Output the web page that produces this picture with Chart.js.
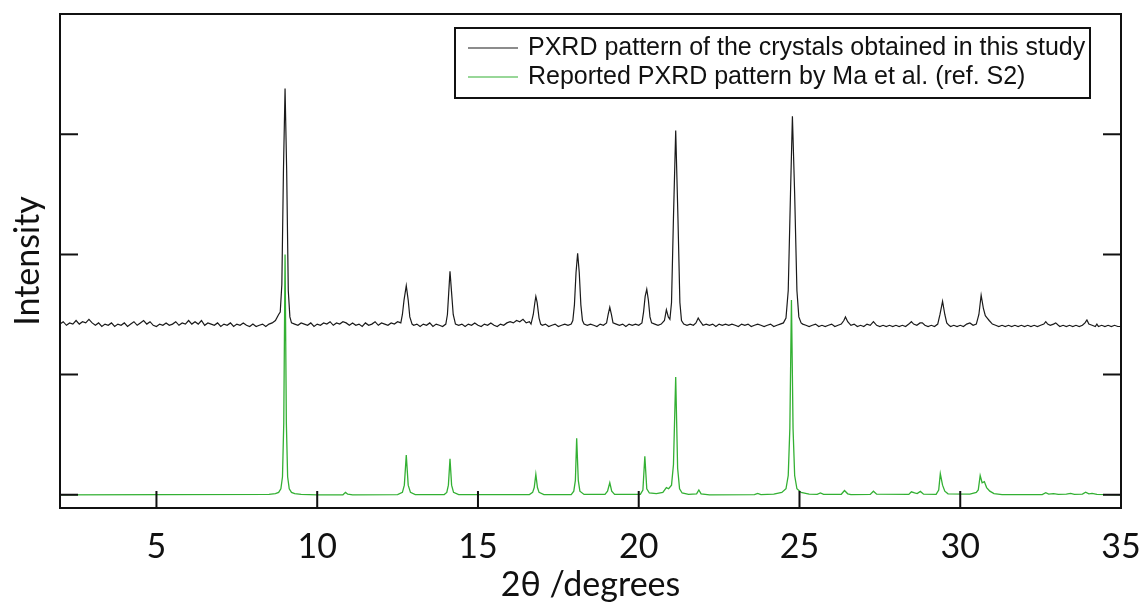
<!DOCTYPE html>
<html>
<head>
<meta charset="utf-8">
<script src="https://cdn.jsdelivr.net/npm/chart.js@4.4.1/dist/chart.umd.min.js"></script>
<style>
  html, body { margin: 0; padding: 0; background: #fff; }
  #wrap { width: 1144px; height: 605px; }
</style>
</head>
<body>
<div id="wrap"><canvas id="pxrdChart" width="1144" height="605"></canvas></div>
<script>
// series names (legend)
const seriesNames = ['PXRD pattern of the crystals obtained in this study', 'Reported PXRD pattern by Ma et al. (ref. S2)'];

// axis ticks
const xTicks = [5, 10, 15, 20, 25, 30, 35];
const yTicks = [0, 1, 2, 3, 4];

// measured pattern (2theta, intensity, offset upward)
const crystalPattern = [
  [2.0,1.42],[2.1,1.44],[2.2,1.41],[2.3,1.43],[2.4,1.42],[2.5,1.45],[2.6,1.42],[2.7,1.44],[2.8,1.43],[2.9,1.46],
  [3.0,1.43],[3.1,1.41],[3.2,1.43],[3.3,1.40],[3.4,1.42],[3.5,1.41],[3.6,1.43],[3.7,1.40],[3.8,1.42],[3.9,1.41],
  [4.0,1.43],[4.1,1.40],[4.2,1.42],[4.3,1.44],[4.4,1.41],[4.5,1.43],[4.6,1.45],[4.7,1.42],[4.8,1.44],[4.9,1.41],
  [5.0,1.40],[5.1,1.42],[5.2,1.41],[5.3,1.43],[5.4,1.41],[5.5,1.42],[5.6,1.44],[5.7,1.41],[5.8,1.43],[5.9,1.42],
  [6.0,1.45],[6.1,1.42],[6.2,1.44],[6.3,1.42],[6.4,1.45],[6.5,1.41],[6.6,1.43],[6.7,1.42],[6.8,1.41],[6.9,1.43],
  [7.0,1.40],[7.1,1.42],[7.2,1.41],[7.3,1.43],[7.4,1.40],[7.5,1.42],[7.6,1.41],[7.7,1.43],[7.8,1.41],[7.9,1.40],
  [8.0,1.42],[8.1,1.40],[8.2,1.41],[8.3,1.42],[8.4,1.40],[8.5,1.42],[8.6,1.43],[8.7,1.45],[8.8,1.50],[8.85,1.52],
  [8.9,1.75],[8.95,2.70],[9.0,3.38],[9.05,2.70],[9.1,1.70],[9.15,1.48],[9.2,1.43],[9.3,1.42],[9.4,1.41],[9.5,1.43],
  [9.6,1.42],[9.7,1.41],[9.8,1.43],[9.9,1.40],[10.0,1.42],[10.1,1.41],[10.2,1.43],[10.3,1.42],[10.4,1.44],[10.5,1.41],
  [10.6,1.43],[10.7,1.42],[10.8,1.44],[10.9,1.43],[11.0,1.41],[11.1,1.43],[11.2,1.41],[11.3,1.42],[11.4,1.40],[11.5,1.43],
  [11.6,1.41],[11.7,1.42],[11.8,1.44],[11.9,1.41],[12.0,1.43],[12.1,1.42],[12.2,1.41],[12.3,1.43],[12.4,1.42],[12.5,1.44],
  [12.6,1.43],[12.65,1.50],[12.7,1.62],[12.77,1.74],[12.83,1.62],[12.88,1.48],[12.95,1.42],[13.0,1.41],[13.1,1.42],[13.2,1.40],
  [13.3,1.42],[13.4,1.41],[13.5,1.43],[13.6,1.40],[13.7,1.42],[13.8,1.41],[13.9,1.40],[14.0,1.42],[14.05,1.50],[14.09,1.68],
  [14.13,1.86],[14.18,1.68],[14.23,1.50],[14.3,1.42],[14.4,1.41],[14.5,1.42],[14.6,1.40],[14.7,1.42],[14.8,1.41],[14.9,1.43],
  [15.0,1.41],[15.1,1.40],[15.2,1.42],[15.3,1.41],[15.4,1.43],[15.5,1.41],[15.6,1.40],[15.7,1.42],[15.8,1.41],[15.9,1.43],
  [16.0,1.44],[16.1,1.43],[16.2,1.45],[16.3,1.44],[16.4,1.46],[16.5,1.43],[16.6,1.44],[16.65,1.42],[16.72,1.50],[16.77,1.60],
  [16.8,1.65],[16.84,1.60],[16.9,1.47],[16.95,1.42],[17.0,1.41],[17.1,1.42],[17.2,1.40],[17.3,1.41],[17.4,1.42],[17.5,1.40],
  [17.6,1.41],[17.7,1.42],[17.8,1.41],[17.9,1.42],[17.95,1.45],[18.0,1.58],[18.05,1.85],[18.1,2.01],[18.15,1.85],[18.2,1.58],
  [18.25,1.45],[18.3,1.42],[18.4,1.41],[18.5,1.42],[18.6,1.41],[18.7,1.40],[18.8,1.42],[18.9,1.41],[19.0,1.43],[19.05,1.50],
  [19.1,1.56],[19.15,1.50],[19.2,1.43],[19.3,1.42],[19.4,1.41],[19.5,1.42],[19.6,1.40],[19.7,1.42],[19.8,1.41],[19.9,1.42],
  [20.0,1.41],[20.1,1.43],[20.15,1.52],[20.2,1.65],[20.25,1.71],[20.3,1.62],[20.35,1.48],[20.4,1.43],[20.5,1.42],[20.6,1.41],
  [20.7,1.42],[20.8,1.45],[20.86,1.54],[20.92,1.48],[20.97,1.46],[21.02,1.60],[21.08,2.30],[21.15,3.03],[21.22,2.30],[21.28,1.60],
  [21.33,1.45],[21.4,1.42],[21.5,1.41],[21.6,1.42],[21.7,1.41],[21.78,1.43],[21.85,1.47],[21.92,1.44],[22.0,1.41],[22.1,1.42],
  [22.2,1.41],[22.3,1.42],[22.4,1.40],[22.5,1.42],[22.6,1.41],[22.7,1.42],[22.8,1.41],[22.9,1.42],[23.0,1.41],[23.1,1.40],
  [23.2,1.42],[23.3,1.41],[23.4,1.42],[23.5,1.40],[23.6,1.41],[23.7,1.42],[23.8,1.41],[23.9,1.40],[24.0,1.41],[24.1,1.42],
  [24.2,1.40],[24.3,1.41],[24.4,1.42],[24.5,1.43],[24.58,1.47],[24.65,1.70],[24.72,2.50],[24.78,3.15],[24.85,2.50],[24.92,1.70],
  [24.98,1.48],[25.05,1.43],[25.1,1.42],[25.2,1.41],[25.3,1.40],[25.4,1.41],[25.5,1.42],[25.6,1.40],[25.7,1.41],[25.8,1.40],
  [25.9,1.41],[26.0,1.42],[26.1,1.40],[26.2,1.41],[26.3,1.42],[26.38,1.45],[26.43,1.48],[26.5,1.44],[26.6,1.41],[26.7,1.42],
  [26.8,1.40],[26.9,1.41],[27.0,1.40],[27.1,1.42],[27.2,1.41],[27.3,1.44],[27.4,1.41],[27.5,1.40],[27.6,1.41],[27.7,1.40],
  [27.8,1.41],[27.9,1.40],[28.0,1.41],[28.1,1.40],[28.2,1.41],[28.3,1.40],[28.4,1.42],[28.48,1.44],[28.55,1.42],[28.65,1.41],
  [28.75,1.43],[28.82,1.43],[28.9,1.41],[29.0,1.40],[29.1,1.41],[29.2,1.40],[29.3,1.42],[29.37,1.50],[29.45,1.61],[29.52,1.50],
  [29.58,1.43],[29.65,1.41],[29.7,1.40],[29.8,1.41],[29.9,1.40],[30.0,1.41],[30.1,1.40],[30.2,1.42],[30.3,1.43],[30.4,1.41],
  [30.5,1.42],[30.58,1.50],[30.65,1.66],[30.72,1.55],[30.78,1.49],[30.84,1.47],[30.9,1.45],[31.0,1.42],[31.1,1.41],[31.2,1.40],
  [31.3,1.41],[31.4,1.40],[31.5,1.41],[31.6,1.40],[31.7,1.41],[31.8,1.40],[31.9,1.41],[32.0,1.40],[32.1,1.41],[32.2,1.40],
  [32.3,1.41],[32.4,1.40],[32.5,1.41],[32.6,1.42],[32.66,1.44],[32.72,1.42],[32.8,1.41],[32.9,1.42],[32.97,1.43],[33.05,1.41],
  [33.1,1.40],[33.2,1.41],[33.3,1.40],[33.4,1.41],[33.5,1.40],[33.6,1.41],[33.7,1.40],[33.8,1.41],[33.88,1.43],[33.94,1.455],
  [34.0,1.42],[34.1,1.41],[34.2,1.40],[34.25,1.42],[34.3,1.40],[34.4,1.41],[34.5,1.40],[34.6,1.41],[34.7,1.40],[34.8,1.41],
  [34.9,1.40],[35.0,1.40]
];

// reported (simulated) pattern
const reportedPattern = [
  [2.0,0.0],[8.5,0.004],[8.7,0.01],[8.8,0.02],[8.87,0.05],[8.92,0.15],[8.96,0.6],[9.0,2.0],[9.04,0.6],[9.08,0.15],
  [9.13,0.05],[9.2,0.02],[9.3,0.01],[9.5,0.004],[10.0,0.0],[10.8,0.0],[10.88,0.02],[10.95,0.005],[11.1,0.0],[12.5,0.002],
  [12.65,0.02],[12.71,0.08],[12.77,0.33],[12.83,0.08],[12.9,0.02],[13.05,0.002],[13.95,0.002],[14.03,0.02],[14.08,0.08],[14.13,0.30],
  [14.18,0.08],[14.24,0.02],[14.4,0.002],[16.6,0.002],[16.7,0.02],[16.75,0.06],[16.8,0.17],[16.85,0.06],[16.9,0.02],[17.05,0.002],
  [17.9,0.002],[17.98,0.03],[18.03,0.12],[18.07,0.47],[18.12,0.12],[18.17,0.03],[18.3,0.003],[18.95,0.003],[19.03,0.03],[19.1,0.10],
  [19.16,0.03],[19.25,0.003],[20.05,0.004],[20.13,0.04],[20.19,0.32],[20.25,0.05],[20.33,0.015],[20.55,0.01],[20.75,0.02],[20.86,0.06],
  [20.93,0.05],[21.02,0.08],[21.08,0.25],[21.15,0.98],[21.21,0.22],[21.27,0.05],[21.35,0.015],[21.55,0.004],[21.8,0.008],[21.87,0.04],
  [21.94,0.008],[22.2,0.0],[23.6,0.002],[23.7,0.012],[23.8,0.002],[24.2,0.006],[24.45,0.02],[24.58,0.05],[24.65,0.16],[24.7,0.55],
  [24.75,1.62],[24.8,0.55],[24.85,0.16],[24.92,0.05],[25.05,0.02],[25.3,0.006],[25.55,0.004],[25.65,0.015],[25.75,0.004],[26.3,0.004],
  [26.4,0.035],[26.5,0.008],[26.6,0.002],[27.2,0.003],[27.3,0.03],[27.4,0.005],[28.4,0.003],[28.48,0.025],[28.58,0.015],[28.66,0.01],
  [28.76,0.028],[28.86,0.005],[29.25,0.004],[29.33,0.04],[29.38,0.175],[29.45,0.08],[29.52,0.03],[29.62,0.008],[30.3,0.006],[30.5,0.02],
  [30.56,0.04],[30.62,0.16],[30.68,0.10],[30.75,0.11],[30.82,0.06],[30.92,0.03],[31.05,0.01],[31.3,0.002],[32.55,0.002],[32.66,0.018],
  [32.75,0.006],[32.9,0.01],[33.05,0.004],[33.3,0.006],[33.43,0.012],[33.55,0.004],[33.8,0.006],[33.9,0.022],[34.0,0.008],[34.1,0.012],
  [34.25,0.003],[35.0,0.0]
];

const seriesColors = ['#1a1a1a', '#33b033'];

// inner tick marks + frame
const frameTicks = {
  id: 'frameTicks',
  afterDatasetsDraw(chart) {
    const { ctx, chartArea: a, scales } = chart;
    ctx.save();
    ctx.strokeStyle = '#111';
    ctx.lineWidth = 2;
    ctx.strokeRect(a.left, a.top, a.right - a.left, a.bottom - a.top);
    ctx.beginPath();
    xTicks.forEach(v => {
      const px = scales.x.getPixelForValue(v);
      ctx.moveTo(px, a.bottom);
      ctx.lineTo(px, a.bottom - 17);
    });
    yTicks.forEach(v => {
      const py = scales.y.getPixelForValue(v);
      ctx.moveTo(a.left, py);
      ctx.lineTo(a.left + 18, py);
      ctx.moveTo(a.right, py);
      ctx.lineTo(a.right - 18, py);
    });
    ctx.stroke();
    ctx.restore();
  }
};

// boxed legend inside the plot area
const boxLegend = {
  id: 'boxLegend',
  afterDraw(chart) {
    const { ctx, chartArea: a } = chart;
    const right = a.right - 31, left = 455, top = a.top + 14, bottom = a.top + 84;
    ctx.save();
    ctx.fillStyle = '#fff';
    ctx.fillRect(left, top, right - left, bottom - top);
    ctx.strokeStyle = '#111';
    ctx.lineWidth = 2;
    ctx.strokeRect(left, top, right - left, bottom - top);
    ctx.font = '25px "Liberation Sans", Arial, sans-serif';
    ctx.textBaseline = 'middle';
    chart.data.datasets.forEach((ds, i) => {
      const y = top + 20 + i * 29;
      ctx.strokeStyle = ds.borderColor;
      ctx.lineWidth = 1.2;
      ctx.beginPath();
      ctx.moveTo(left + 13, y);
      ctx.lineTo(left + 63, y);
      ctx.stroke();
      ctx.fillStyle = '#111';
      ctx.fillText(ds.label, left + 73, y);
    });
    ctx.restore();
  }
};

const toPoints = arr => arr.map(p => ({ x: p[0], y: p[1] }));
const axisFont = { family: 'Lato, "DejaVu Sans", sans-serif', size: 34 };

new Chart(document.getElementById('pxrdChart'), {
  type: 'line',
  data: {
    datasets: [
      {
        label: seriesNames[0],
        data: toPoints(crystalPattern),
        borderColor: seriesColors[0],
        borderWidth: 1.2,
        pointRadius: 0,
        tension: 0,
        fill: false
      },
      {
        label: seriesNames[1],
        data: toPoints(reportedPattern),
        borderColor: seriesColors[1],
        borderWidth: 1.3,
        pointRadius: 0,
        tension: 0,
        fill: false
      }
    ]
  },
  options: {
    responsive: false,
    animation: false,
    layout: { padding: { top: 14, right: 23, left: 0, bottom: 0 } },
    plugins: {
      legend: { display: false },
      tooltip: { enabled: false }
    },
    scales: {
      x: {
        type: 'linear',
        min: 2,
        max: 35,
        afterBuildTicks: s => { s.ticks = xTicks.map(v => ({ value: v })); },
        afterFit: s => { s.height = 97; s.paddingLeft = 0; s.paddingRight = 0; },
        grid: { display: false },
        border: { display: false },
        ticks: {
          color: '#111',
          padding: 11,
          maxRotation: 0,
          font: axisFont
        },
        title: {
          display: true,
          text: '2θ /degrees',
          color: '#111',
          padding: { top: 0, bottom: 0 },
          font: axisFont
        }
      },
      y: {
        type: 'linear',
        min: -0.11,
        max: 4,
        afterBuildTicks: s => { s.ticks = yTicks.map(v => ({ value: v })); },
        afterFit: s => { s.width = 60; },
        grid: { display: false },
        border: { display: false },
        ticks: { display: false },
        title: {
          display: true,
          text: 'Intensity',
          color: '#111',
          padding: { top: 8, bottom: 0 },
          font: axisFont
        }
      }
    }
  },
  plugins: [frameTicks, boxLegend]
});
</script>
</body>
</html>
